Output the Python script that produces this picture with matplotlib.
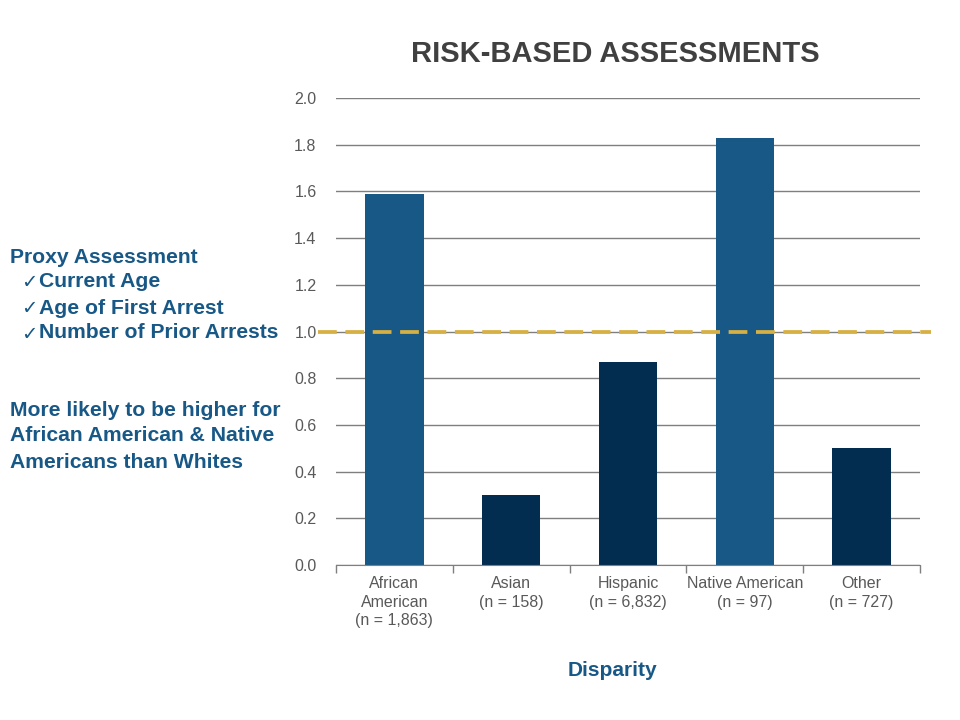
import matplotlib.pyplot as plt

# data
groups = ["African\nAmerican\n(n = 1,863)", "Asian\n(n = 158)", "Hispanic\n(n = 6,832)",
          "Native American\n(n = 97)", "Other\n(n = 727)"]
disparity = [1.59, 0.30, 0.87, 1.83, 0.50]
bar_colors = ["#185886", "#022c50", "#022c50", "#185886", "#022c50"]
yticks = [0.0, 0.2, 0.4, 0.6, 0.8, 1.0, 1.2, 1.4, 1.6, 1.8, 2.0]
reference = 1.0

BLUE = "#185886"
GRAY = "#595959"
FONT = ["Liberation Sans", "DejaVu Sans"]
plt.rcParams["font.family"] = FONT

W, H = 960, 720
fig = plt.figure(figsize=(9.6, 7.2), dpi=100)
fig.patch.set_facecolor("white")

# axes placed in pixel terms
left, right, top, bottom = 336, 920, 98, 565
ax = fig.add_axes([left / W, 1 - bottom / H, (right - left) / W, (bottom - top) / H])

x = list(range(len(groups)))
ax.bar(x, disparity, width=0.5, color=bar_colors, zorder=2)

ax.set_xlim(-0.5, len(groups) - 0.5)
ax.set_ylim(0, 2.0)
ax.set_yticks(yticks)
ax.set_yticklabels([f"{v:.1f}" for v in yticks], color=GRAY, fontsize=11.5)
ax.tick_params(axis="y", length=0, pad=14)
ax.yaxis.grid(True, color="#7f7f7f", linewidth=1, zorder=0)
ax.set_axisbelow(True)

# category labels centred, ticks at boundaries
ax.set_xticks(x)
ax.set_xticklabels(groups, color=GRAY, fontsize=11.5, linespacing=1.3)
ax.tick_params(axis="x", length=0, pad=8)
ax.set_xticks([i - 0.5 for i in range(len(groups) + 1)], minor=True)
ax.tick_params(axis="x", which="minor", length=6, color="#7f7f7f", width=1)

for s in ["top", "right", "left"]:
    ax.spines[s].set_visible(False)
ax.spines["bottom"].set_color("#7f7f7f")

# dashed reference line extending past the plot area
ax.plot([-0.655, 4.59], [reference, reference], color="#d6b043", linewidth=2.7,
        dashes=(5, 2.3), clip_on=False, zorder=3)

# title and axis caption
fig.text(615 / W, 1 - 54 / H, "RISK-BASED ASSESSMENTS", ha="center", va="center",
         fontsize=21, fontweight="bold", color="#404040")
fig.text(612 / W, 1 - 670 / H, "Disparity", ha="center", va="center",
         fontsize=15, fontweight="bold", color=BLUE)

# side notes
def note(px, py, s):
    fig.text(px / W, 1 - py / H, s, ha="left", va="center", fontsize=15.2,
             fontweight="bold", color=BLUE, family=FONT)

note(10, 257, "Proxy Assessment")
for py, s in [(282, "Current Age"), (308, "Age of First Arrest"), (333, "Number of Prior Arrests")]:
    fig.text(21 / W, 1 - (py + 1) / H, "\u2713", ha="left", va="center", fontsize=14,
             fontweight="bold", color=BLUE, family=["DejaVu Sans"])
    note(39, py, s)
note(10, 411, "More likely to be higher for")
note(10, 436, "African American & Native")
note(10, 462, "Americans than Whites")

fig.savefig("out.png", dpi=100, facecolor="white")
